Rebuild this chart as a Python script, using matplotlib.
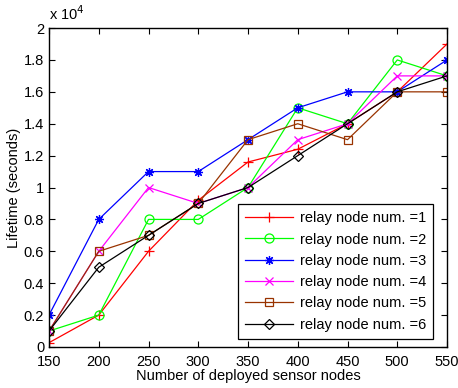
import matplotlib
matplotlib.use("Agg")
import matplotlib.pyplot as plt

plt.rcParams['font.family'] = ['Liberation Sans', 'DejaVu Sans']

nodes = [150, 200, 250, 300, 350, 400, 450, 500, 550]
relay1 = [270, 2000, 6000, 9200, 11600, 12400, 14000, 16000, 19000]
relay2 = [1000, 2000, 8000, 8000, 10000, 15000, 14000, 18000, 17000]
relay3 = [2000, 8000, 11000, 11000, 13000, 15000, 16000, 16000, 18000]
relay4 = [1000, 6000, 10000, 9000, 10000, 13000, 14000, 17000, 17000]
relay5 = [1000, 6000, 7000, 9000, 13000, 14000, 13000, 16000, 16000]
relay6 = [1000, 5000, 7000, 9000, 10000, 12000, 14000, 16000, 17000]
labels = ['relay node num. =1', 'relay node num. =2', 'relay node num. =3',
          'relay node num. =4', 'relay node num. =5', 'relay node num. =6']
yticks = [0, 2000, 4000, 6000, 8000, 10000, 12000, 14000, 16000, 18000, 20000]
yticklabels = ['0', '0.2', '0.4', '0.6', '0.8', '1', '1.2', '1.4', '1.6', '1.8', '2']

series = [relay1, relay2, relay3, relay4, relay5, relay6]
colors = ['#ff0000', '#00ff00', '#0000ff', '#ff00ff', (0.6, 0.2, 0.0), '#000000']
markers = ['+', 'o', (8, 2, 0), 'x', 's', 'D']
msizes = [7, 6.5, 6.5, 5.5, 5.5, 5]

fig = plt.figure(figsize=(4.58, 3.88), dpi=100)
ax = fig.add_axes([0.107, 0.1057, 0.869, 0.822])

for ys, c, m, ms, lab in zip(series, colors, markers, msizes, labels):
    ax.plot(nodes, ys, color=c, marker=m, markersize=ms, markerfacecolor='none',
            markeredgecolor=c, markeredgewidth=0.9, linewidth=0.9, label=lab)

ax.set_xlim(150, 550)
ax.set_ylim(0, 20000)
ax.set_xticks(nodes)
ax.set_yticks(yticks)
ax.set_yticklabels(yticklabels)
ax.tick_params(direction='in', top=True, right=True, labelsize=10.5, length=4, width=0.8)
ax.tick_params(axis='x', pad=6)
for s in ax.spines.values():
    s.set_linewidth(1.0)
ax.text(0.0, 1.015, 'x 10$^4$', transform=ax.transAxes, fontsize=10.5, ha='left', va='bottom')
ax.set_xlabel('Number of deployed sensor nodes', fontsize=10.5, labelpad=0)
ax.set_ylabel('Lifetime (seconds)', fontsize=10.5, labelpad=2)

leg = ax.legend(loc='lower right', bbox_to_anchor=(0.965, 0.025), borderaxespad=0,
                fontsize=10.5, fancybox=False, edgecolor='black',
                framealpha=1, handlelength=3.3, labelspacing=0.5,
                handletextpad=0.45, borderpad=0.5)
leg.get_frame().set_linewidth(0.9)
for h in leg.legend_handles:
    h.set_markevery([1])

fig.savefig('out.png', dpi=100)
